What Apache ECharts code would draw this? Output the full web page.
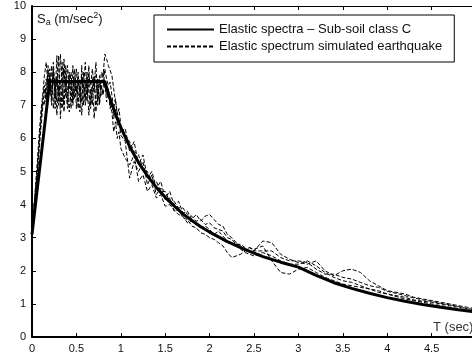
<!DOCTYPE html>
<html>
<head>
<meta charset="utf-8">
<script src="https://cdn.jsdelivr.net/npm/echarts@6/dist/echarts.min.js"></script>
<style>
html,body{margin:0;padding:0;background:#fff;}
#chart{width:472px;height:360px;}
</style>
</head>
<body>
<div id="chart"></div>
<script>
// x tick labels (the "5" label lies outside the window, as in the reference)
const xTicks = ['0','0.5','1','1.5','2','2.5','3','3.5','4','4.5',''];
const yTicks = ['0','1','2','3','4','5','6','7','8','9','10'];

// code spectrum (solid)
const specT  = [0,0.2,0.82,0.86,0.9,0.95,1.0,1.1,1.2,1.3,1.4,1.5,1.6,1.7,1.8,1.9,2.0,2.2,2.4,2.6,2.8,3.0,3.2,3.4,3.6,3.8,4.0,4.2,4.4,4.6,4.8,5.0];
const specSa = [3.1,7.72,7.72,7.36,7.03,6.66,6.33,5.75,5.27,4.87,4.52,4.22,3.96,3.72,3.52,3.33,3.17,2.88,2.64,2.43,2.26,2.11,1.86,1.64,1.47,1.32,1.19,1.08,0.98,0.90,0.82,0.76];

// simulated earthquake spectra (dashed)
const simT = [0,0.02,0.04,0.06,0.08,0.10,0.12,0.14,0.16,0.18,0.20,0.22,0.24,0.26,0.28,0.30,0.32,0.34,0.36,0.38,0.40,0.42,0.44,0.46,0.48,0.50,0.52,0.54,0.56,0.58,0.60,0.62,0.64,0.66,0.68,0.70,0.72,0.74,0.76,0.78,0.80,0.82,0.84,0.86,0.88,0.90,0.92,0.94,0.96,0.98,1.00,
  1.05,1.10,1.15,1.20,1.25,1.30,1.35,1.40,1.45,1.50,1.55,1.60,1.65,1.70,1.75,1.80,1.85,1.90,1.95,2.00,2.05,2.10,2.15,2.20,2.25,2.30,2.35,2.40,2.45,2.50,
  2.6,2.7,2.8,2.9,3.0,3.1,3.2,3.3,3.4,3.5,3.6,3.7,3.8,3.9,4.0,4.1,4.2,4.3,4.4,4.5,4.6,4.7,4.8,4.9,5.0];
const simA = [3.3,3.8,4.6,5.3,6.1,6.8,7.3,7.9,8.3,7.6,8.1,7.4,8.0,7.2,8.5,7.0,8.55,7.6,8.1,7.3,8.2,7.5,8.0,7.1,7.8,7.4,8.0,7.2,7.9,7.5,8.3,7.3,7.9,7.6,8.1,7.4,7.9,7.2,7.7,7.5,8.0,7.6,7.3,7.4,6.9,7.1,6.6,6.9,6.4,6.6,6.2,
  6.3,5.6,5.9,5.2,5.5,4.8,5.0,4.5,4.7,4.2,4.4,4.0,4.1,3.75,3.8,3.55,3.7,3.5,3.65,3.7,3.55,3.4,3.35,3.1,3.0,2.85,2.75,2.65,2.7,2.6,
  2.9,2.85,2.5,2.35,2.25,2.2,2.3,2.0,1.85,2.0,2.05,1.95,1.7,1.55,1.4,1.35,1.3,1.2,1.15,1.1,1.05,1.0,0.95,0.9,0.85];
const simB = [3.2,3.6,4.1,4.9,5.6,6.3,6.9,7.5,7.2,8.0,7.3,8.2,6.9,7.8,6.7,7.6,7.0,8.3,6.8,7.7,7.1,7.9,6.9,8.2,7.2,7.6,6.9,7.8,7.1,8.0,7.0,7.7,6.7,7.5,7.0,7.9,6.8,7.6,7.1,8.0,7.9,8.55,8.4,8.2,8.15,7.9,7.5,7.1,6.8,6.5,6.1,
  5.9,4.8,5.3,5.0,5.3,4.6,4.9,4.3,4.5,4.15,4.2,3.8,3.85,3.6,3.55,3.35,3.3,3.15,3.1,3.0,2.95,2.85,2.75,2.55,2.4,2.45,2.5,2.6,2.7,2.65,
  2.75,2.3,1.95,1.9,2.05,2.1,1.95,1.8,1.7,1.6,1.55,1.5,1.45,1.35,1.3,1.22,1.15,1.1,1.05,1.0,0.95,0.9,0.85,0.8,0.75];
const simC = [3.1,3.5,4.3,5.1,5.9,6.6,7.1,7.0,7.8,7.4,7.9,7.0,8.3,7.5,7.1,8.5,6.6,7.5,7.0,8.2,7.4,6.8,7.7,7.3,8.1,6.9,7.7,7.4,6.7,7.6,7.2,8.0,7.4,6.9,7.6,6.6,7.4,7.8,7.0,7.6,7.3,7.7,7.1,7.5,7.0,6.8,6.2,6.5,6.0,6.2,5.7,
  5.4,5.2,5.5,4.7,4.9,4.4,4.6,4.2,4.3,3.95,4.0,3.85,3.7,3.65,3.45,3.5,3.4,3.3,3.35,3.25,3.1,3.2,3.05,2.9,2.8,2.85,2.65,2.55,2.5,2.45,
  2.55,2.45,2.3,2.2,2.2,2.3,2.15,1.95,1.8,1.7,1.65,1.55,1.45,1.4,1.3,1.25,1.2,1.12,1.08,1.05,1.0,0.95,0.9,0.85,0.8];
const simD = [3.2,3.9,4.5,5.0,5.8,6.5,7.2,7.6,7.1,8.2,7.7,7.2,8.1,6.9,7.9,7.3,7.7,6.9,8.4,7.5,6.9,8.0,7.6,7.0,7.5,8.1,7.3,6.8,8.2,7.0,7.7,7.1,8.2,7.0,7.8,7.6,8.3,7.0,7.9,7.3,7.5,8.1,7.8,7.6,7.7,7.3,6.9,7.2,6.7,6.9,6.4,
  6.1,5.9,5.6,5.5,5.1,5.0,4.7,4.7,4.4,4.4,4.1,4.1,3.9,3.9,3.7,3.65,3.5,3.55,3.4,3.45,3.3,3.25,3.2,3.0,2.95,2.8,2.8,2.7,2.6,2.6,
  2.6,2.6,2.4,2.3,2.3,2.25,2.05,1.9,1.9,1.8,1.75,1.65,1.55,1.5,1.38,1.32,1.25,1.18,1.12,1.08,1.02,0.98,0.92,0.86,0.82];

const NAME_CODE = 'Elastic spectra \u2013 Sub-soil class C';
const NAME_SIM = 'Elastic spectrum simulated earthquake';
const FONT = "'Liberation Sans', Arial, Helvetica, sans-serif";

function pairs(xs, ys){ return xs.map((x,i)=>[x, ys[i]]); }

const chart = echarts.init(document.getElementById('chart'), null, {renderer:'canvas'});

const simStyle = {color:'#000', width:1, type:[4,2]};
function simSeries(vals){
  return {name: NAME_SIM, type:'line', data: pairs(simT, vals), symbol:'none', showSymbol:false,
    lineStyle: simStyle, itemStyle:{color:'#000'}, animation:false, z:2};
}

chart.setOption({
  animation:false,
  backgroundColor:'#fff',
  textStyle:{fontFamily:FONT},
  grid:{left:32, right:-4, top:6, bottom:23, containLabel:false, outerBoundsMode:'none'},
  legend:{
    data:[NAME_CODE, NAME_SIM],
    orient:'vertical', left:154, top:15,
    itemWidth:47, itemHeight:14, itemGap:4,
    padding:[8,12,9,12],
    borderColor:'#000', borderWidth:1, backgroundColor:'#fff',
    itemStyle:{opacity:0},
    textStyle:{fontFamily:FONT, fontSize:13, color:'#111'},
    selectedMode:false
  },
  xAxis:[{
    type:'value', min:0, max:5, interval:0.5, position:'bottom',
    axisLine:{show:true, onZero:false, lineStyle:{color:'#000', width:2}},
    axisTick:{show:true, inside:true, length:4, lineStyle:{color:'#000', width:1}},
    axisLabel:{color:'#111', fontSize:11, fontFamily:FONT, margin:6,
      formatter:(v)=>xTicks[Math.round(v*2)]},
    splitLine:{show:false}
  },{
    type:'value', min:0, max:5, interval:0.5, position:'top',
    axisLine:{show:true, onZero:false, lineStyle:{color:'#000', width:1}},
    axisTick:{show:true, inside:true, length:4, lineStyle:{color:'#000', width:1}},
    axisLabel:{show:false}, splitLine:{show:false}
  }],
  yAxis:[{
    type:'value', min:0, max:10, interval:1,
    axisLine:{show:true, onZero:false, lineStyle:{color:'#000', width:2}},
    axisTick:{show:true, inside:true, length:4, lineStyle:{color:'#000', width:1}},
    axisLabel:{color:'#111', fontSize:11, fontFamily:FONT, margin:6,
      formatter:(v)=>yTicks[Math.round(v)]},
    splitLine:{show:false}
  }],
  graphic:[
    {type:'text', left:37, top:11, z:100,
      style:{text:'{s|S}{sub|a}{s| (m/sec}{sup|2}{s|)}', fill:'#111',
        rich:{
          s:{fontSize:13, fontFamily:FONT, fill:'#111', lineHeight:16, verticalAlign:'middle'},
          sub:{fontSize:9, fontFamily:FONT, fill:'#111', lineHeight:16, padding:[7,0,0,0], verticalAlign:'middle'},
          sup:{fontSize:9, fontFamily:FONT, fill:'#111', lineHeight:16, padding:[0,0,6,0], verticalAlign:'middle'}
        }}},
    {type:'text', left:433, top:321, z:100,
      style:{text:'T (sec)', fontSize:13, fontFamily:FONT, fill:'#333'}}
  ],
  series:[
    simSeries(simA),
    simSeries(simB),
    simSeries(simC),
    simSeries(simD),
    {name: NAME_CODE, type:'line', data: pairs(specT, specSa), symbol:'none', showSymbol:false,
      lineStyle:{color:'#000', width:3}, itemStyle:{color:'#000'}, z:3}
  ]
});
</script>
</body>
</html>
